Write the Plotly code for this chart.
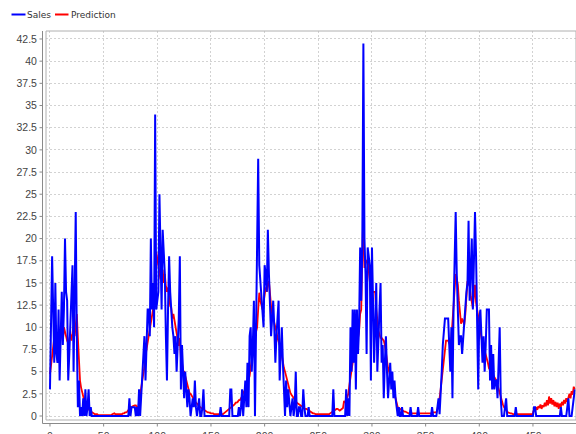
import plotly.graph_objects as go

# ---------------- data ----------------
sales = [
    3, 9, 18, 12, 6, 15, 7, 6, 12, 4,
    9, 14, 8, 12, 20, 14, 13, 4, 7, 10,
    14, 17, 5, 12, 23, 9, 1, 4, 0, 1,
    0, 2, 0, 3, 0, 1, 3, 0, 1, 0,
    0, 0, 0, 0, 0, 0, 0, 0, 0, 0,
    0, 0, 0, 0, 0, 0, 0, 0, 0, 0,
    0, 0, 0, 0, 0, 0, 0, 0, 0, 0,
    0, 0, 0, 0, 2, 0, 1, 1, 1, 1,
    0, 1, 0, 3, 0, 2, 5, 7, 9, 4,
    7, 12, 12, 9, 20, 12, 15, 10, 34, 12,
    13, 14, 25, 16, 12, 21, 18, 16, 9, 4,
    12, 18, 14, 11, 10, 9, 7, 9, 5, 8,
    11, 18, 3, 8, 5, 2, 5, 3, 1, 3,
    2, 0, 1, 2, 1, 4, 1, 0, 1, 2,
    0, 0, 1, 3, 0, 0, 0, 0, 0, 0,
    0, 0, 0, 0, 0, 0, 0, 0, 0, 1,
    0, 0, 0, 0, 0, 0, 0, 0, 3, 3,
    0, 0, 0, 0, 0, 0, 1, 0, 1, 3,
    0, 2, 4, 1, 6, 1, 9, 10, 5, 8,
    13, 0, 9, 17, 29, 17, 15, 13, 12, 10,
    17, 16, 14, 21, 16, 12, 9, 11, 13, 10,
    6, 9, 12, 13, 4, 7, 10, 6, 3, 0,
    4, 1, 3, 1, 0, 1, 2, 0, 1, 5,
    0, 0, 1, 1, 0, 0, 3, 1, 0, 0,
    0, 1, 0, 0, 0, 0, 0, 0, 0, 0,
    0, 0, 0, 0, 0, 0, 0, 0, 0, 0,
    0, 0, 0, 0, 3, 0, 0, 0, 0, 0,
    0, 0, 0, 0, 0, 0, 3, 0, 2, 0,
    10, 5, 12, 6, 12, 3, 12, 7, 10, 19,
    13, 19, 42, 20, 16, 7, 19, 18, 17, 4,
    19, 13, 6, 10, 15, 5, 10, 12, 15, 6,
    8, 2, 6, 9, 5, 2, 4, 6, 3, 5,
    2, 4, 2, 1, 0, 1, 0, 0, 1, 0,
    0, 0, 0, 0, 0, 0, 1, 0, 0, 0,
    0, 0, 0, 1, 0, 0, 0, 0, 0, 0,
    0, 0, 0, 0, 0, 0, 1, 0, 0, 0,
    0, 1, 2, 0.2, 2, 5, 8, 10, 11, 11,
    11, 11, 8, 5, 10, 2, 12, 20, 23, 16,
    10, 8, 9, 9, 7, 9, 10, 12, 14, 15,
    22, 13, 16, 20, 12, 20, 23, 18, 11, 3,
    11, 12, 9, 6, 9, 5, 8, 12, 12, 12,
    4, 8, 3, 7, 3, 4, 4, 2, 6, 10,
    2, 0, 0, 0, 1, 2, 0, 0, 0, 0,
    0, 0, 0, 0, 1, 0, 0, 0, 0, 0,
    0, 0, 0, 0, 0, 0, 0, 0, 0, 0,
    0, 1, 1, 0, 0, 0, 0, 0, 0, 0,
    0, 0, 0, 0, 0, 0, 0, 0, 0, 0,
    0, 0, 0, 0, 0, 0, 1, 0, 0, 0,
    0, 0, 1, 2, 0, 0, 0, 1, 2, 3,
]

prediction = [
    4.7, 5.8, 7.1, 8, 8.8, 8.2, 7.7, 7.3, 7, 8.5,
    9.6, 9, 8.5, 10, 9.4, 8.8, 8.5, 8.2, 8.9, 9.2,
    8.5, 9.5, 10.2, 9, 10.5, 11.5, 8.8, 5.4, 4, 3.2,
    2.6, 2, 1.7, 1.5, 1.2, 1, 0.8, 0.6, 0.5, 0.4,
    0.3, 0.3, 0.2, 0.2, 0.2, 0.1, 0.1, 0.1, 0.1, 0.1,
    0.1, 0.1, 0.1, 0.1, 0.1, 0.1, 0.1, 0.1, 0.2, 0.3,
    0.3, 0.2, 0.2, 0.2, 0.2, 0.2, 0.2, 0.2, 0.3, 0.3,
    0.4, 0.4, 0.5, 0.6, 0.8, 1.0, 1.0, 1.1, 1.2, 1.2,
    1.2, 1.0, 0.8, 1.5, 2.5, 3, 4, 4.8, 5.5, 6.8,
    7.5, 8.3, 9, 9.7, 10.5, 11, 12, 13.3, 16, 18.5,
    17.7, 16.8, 16.5, 15.4, 16, 16.5, 15, 16, 14.6, 14,
    14.5, 13, 12.4, 12.2, 11, 11.5, 10.7, 10, 9.2, 8.5,
    7.9, 8.8, 6.5, 6, 5, 5, 4.5, 4, 3.5, 3,
    2.6, 2.5, 2.3, 2, 1.8, 1.6, 1.5, 1.4, 1.2, 1.1,
    1, 0.9, 0.8, 0.8, 0.7, 0.6, 0.5, 0.4, 0.4, 0.3,
    0.3, 0.3, 0.3, 0.2, 0.2, 0.2, 0.2, 0.2, 0.2, 0.2,
    0.2, 0.2, 0.3, 0.4, 0.5, 0.6, 0.7, 0.8, 0.9, 1,
    1, 1.2, 1.3, 1.5, 1.5, 1.6, 1.8, 1.8, 2, 2.2,
    2.6, 2.8, 3, 3.4, 3.8, 4, 4.5, 5.5, 6.2, 7,
    7.5, 8.5, 9.5, 10, 12, 13.9, 13, 12.5, 12, 12.8,
    13.5, 14.5, 14, 15, 15.2, 13.5, 12.4, 11.5, 11, 10.7,
    10, 9.5, 8.8, 8.5, 8, 7.6, 6.8, 6, 5.4, 5,
    4.5, 4, 3.5, 3, 2.6, 2.4, 2.2, 2, 1.8, 1.6,
    1.5, 1.4, 1.3, 1.2, 1.1, 1, 1, 0.9, 0.8, 0.8,
    0.7, 0.6, 0.5, 0.4, 0.3, 0.3, 0.3, 0.2, 0.2, 0.2,
    0.2, 0.2, 0.2, 0.2, 0.2, 0.2, 0.2, 0.2, 0.2, 0.2,
    0.2, 0.3, 0.4, 0.5, 0.6, 0.6, 0.7, 0.8, 0.8, 0.7,
    0.6, 0.7, 0.8, 0.9, 1.7, 1.5, 1.8, 2.2, 2.5, 3.5,
    4.5, 5.4, 6, 6.5, 7, 7.5, 8, 8.8, 9.6, 11.5,
    12, 18, 23.5, 16.7, 17, 17.5, 17.5, 16, 15, 14,
    14, 14, 14, 14, 12, 10.5, 9.6, 9.2, 8.8, 8.8,
    8.6, 8.5, 8, 7, 6, 5.4, 5, 4.5, 4, 3.5,
    3, 2.5, 2, 1.5, 1, 0.9, 0.8, 0.7, 0.6, 0.6,
    0.5, 0.5, 0.4, 0.4, 0.3, 0.3, 0.3, 0.3, 0.3, 0.3,
    0.3, 0.3, 0.3, 0.3, 0.3, 0.3, 0.3, 0.3, 0.3, 0.3,
    0.3, 0.3, 0.3, 0.3, 0.3, 0.3, 0.3, 0.4, 0.4, 0.4,
    0.4, 0.8, 1.3, 2, 3, 4, 5.4, 6.5, 7.5, 8.5,
    8.5, 8.5, 8.2, 8, 8.8, 10.7, 13, 15.2, 16, 15.5,
    14.8, 13, 11.5, 10.4, 11, 10.7, 10.3, 11.5, 13.3, 15.2,
    14.8, 14.8, 13.5, 13, 12.2, 13.5, 14.8, 12.8, 12, 11.5,
    10.7, 9.8, 9, 8.1, 7.8, 7.4, 7, 6.5, 6, 5.4,
    5.2, 5, 4.7, 4.5, 4.3, 4.1, 4, 3.5, 3, 2.5,
    2.1, 1.7, 1.3, 1, 0.8, 0.6, 0.5, 0.4, 0.3, 0.3,
    0.3, 0.2, 0.2, 0.2, 0.2, 0.2, 0.2, 0.2, 0.2, 0.2,
    0.2, 0.2, 0.2, 0.2, 0.2, 0.2, 0.2, 0.2, 0.2, 0.2,
    0.3, 0.8, 0.6, 1.0, 0.7, 1.1, 0.9, 1.3, 0.8, 1.2,
    1.0, 1.5, 1.1, 1.8, 1.2, 2.2, 1.4, 2.0, 1.3, 1.8,
    1.1, 1.6, 1.0, 1.5, 0.8, 1.4, 1.0, 1.6, 1.2, 1.8,
    1.4, 2.0, 1.6, 2.2, 2.5, 2.0, 2.8, 2.4, 3.3, 3.0,
]

x_index = list(range(len(sales)))

y_tick_vals = [0, 2.5, 5, 7.5, 10, 12.5, 15, 17.5, 20, 22.5, 25, 27.5,
               30, 32.5, 35, 37.5, 40, 42.5]
y_tick_text = ["0", "2.5", "5", "7.5", "10", "12.5", "15", "17.5", "20", "22.5",
               "25", "27.5", "30", "32.5", "35", "37.5", "40", "42.5"]
x_tick_vals = [0, 50, 100, 150, 200, 250, 300, 350, 400, 450]
x_tick_text = ["0", "50", "100", "150", "200", "250", "300", "350", "400", "450"]

series_names = ["Sales", "Prediction"]
series_colors = ["#0000FF", "#FF0000"]

# ---------------- layout geometry ----------------
W, H = 576, 434
ML, MR, MT, MB = 46, 0, 31, 14
PW = W - ML - MR
PH = H - MT - MB


def px_x(px):
    return (px - ML) / PW


def px_y(py):
    return (H - MB - py) / PH


fig = go.Figure()
# prediction first so that Sales is drawn on top
fig.add_trace(go.Scatter(x=x_index, y=prediction, mode="lines", name=series_names[1],
                         line=dict(color=series_colors[1], width=1.8)))
fig.add_trace(go.Scatter(x=x_index, y=sales, mode="lines", name=series_names[0],
                         line=dict(color=series_colors[0], width=2)))

axis_gray = "#8a8a8a"
shapes = []
# plot border
shapes.append(dict(type="rect", xref="paper", yref="paper", x0=0, x1=1, y0=0, y1=1,
                   line=dict(color="#b0b0b0", width=1), layer="above"))
# offset axis lines
ax_off = 3.5
shapes.append(dict(type="line", xref="paper", yref="paper",
                   x0=-ax_off / PW, x1=-ax_off / PW, y0=-ax_off / PH, y1=1,
                   line=dict(color=axis_gray, width=1)))
shapes.append(dict(type="line", xref="paper", yref="paper",
                   x0=-ax_off / PW, x1=1, y0=-ax_off / PH, y1=-ax_off / PH,
                   line=dict(color=axis_gray, width=1)))
# tick marks
for v in y_tick_vals:
    shapes.append(dict(type="line", xref="paper", yref="y",
                       x0=-ax_off / PW, x1=-(ax_off + 3) / PW, y0=v, y1=v,
                       line=dict(color=axis_gray, width=1)))
for v in x_tick_vals:
    shapes.append(dict(type="line", xref="x", yref="paper",
                       x0=v, x1=v, y0=-ax_off / PH, y1=-(ax_off + 3) / PH,
                       line=dict(color=axis_gray, width=1)))

# manual legend
leg_y = px_y(14.5)
legend_items = [(11.5, 25.5, 27.3), (55, 68.5, 70.7)]
annotations = []
for (x0, x1, tx), name, col in zip(legend_items, series_names, series_colors):
    shapes.append(dict(type="line", xref="paper", yref="paper",
                       x0=px_x(x0), x1=px_x(x1), y0=leg_y, y1=leg_y,
                       line=dict(color=col, width=2)))
    annotations.append(dict(xref="paper", yref="paper", x=px_x(tx), y=leg_y,
                            text=name, showarrow=False, xanchor="left", yanchor="middle",
                            borderpad=0, borderwidth=0,
                            font=dict(family="DejaVu Sans, sans-serif", size=9,
                                      color="#333333")))

tick_font = dict(family="Liberation Sans, Arial, sans-serif", size=10.5, color="#444444")
grid_style = dict(showgrid=True, gridcolor="#d2d2d2", griddash="2px,2px", gridwidth=1)

fig.update_layout(
    template="none",
    width=W, height=H,
    margin=dict(l=ML, r=MR, t=MT, b=MB, pad=0, autoexpand=False),
    paper_bgcolor="white", plot_bgcolor="white",
    showlegend=False,
    shapes=shapes,
    annotations=annotations,
    xaxis=dict(range=[-3.7, 490.1], tickvals=x_tick_vals, ticktext=x_tick_text,
               zeroline=False, showline=False, ticks="outside", ticklen=6,
               tickcolor="rgba(0,0,0,0)", tickfont=tick_font, fixedrange=True,
               automargin=False, **grid_style),
    yaxis=dict(range=[-0.45, 43.4], tickvals=y_tick_vals, ticktext=y_tick_text,
               zeroline=False, showline=False, ticks="outside", ticklen=6,
               tickcolor="rgba(0,0,0,0)", tickfont=tick_font, fixedrange=True,
               automargin=False, **grid_style),
)

fig.write_html(
    "out.html",
    config={"displayModeBar": False},
    post_script="document.body.style.margin='0px';document.body.style.overflow='hidden';",
)
